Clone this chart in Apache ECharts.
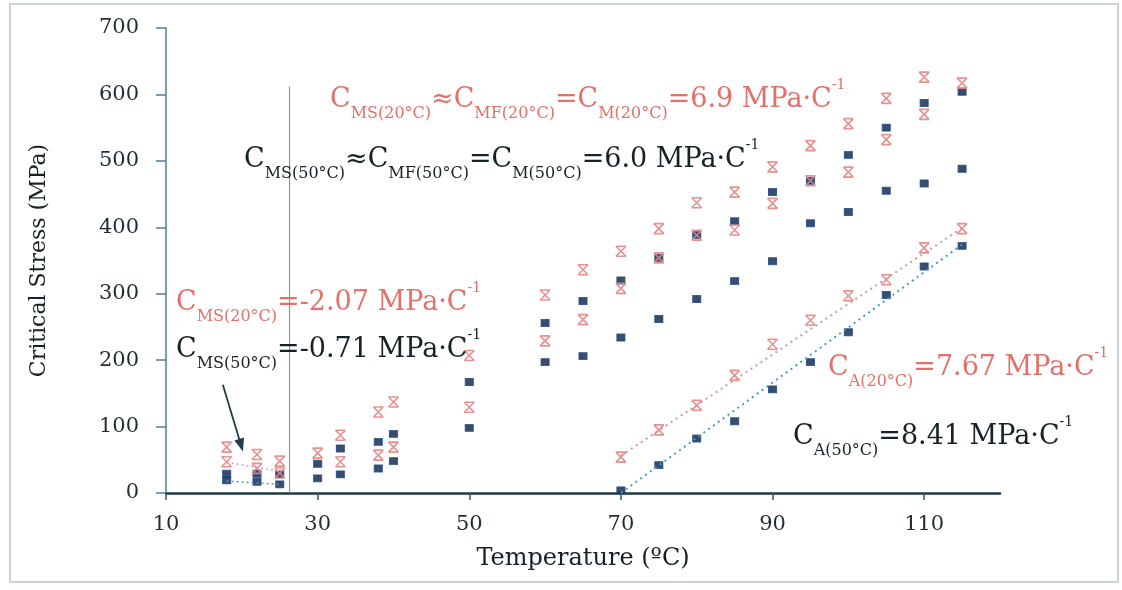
<!DOCTYPE html>
<html>
<head>
<meta charset="utf-8">
<script src="https://cdn.jsdelivr.net/npm/echarts@6/dist/echarts.min.js"></script>
<style>
  html, body { margin: 0; padding: 0; background: #fff; }
  #chart { width: 1122px; height: 590px; }
</style>
</head>
<body>
<div id="chart"></div>
<script>
// 20°C samples (red crosses): martensite branch and austenite branch
const redM = [[18,69],[18,47],[22,58],[22,37],[25,48],[25,30],[30,60],[33,87],[33,47],[38,122],[38,57],[40,137],[40,69],
  [50,207],[50,129],[60,298],[60,229],[65,336],[65,261],[70,364],[70,308],[75,398],[75,354],[80,437],[80,388],
  [85,453],[85,396],[90,491],[90,436],[95,523],[95,470],[100,556],[100,483],[105,594],[105,532],[110,626],[110,570],[115,617]];
const redA = [[70,54],[75,95],[80,132],[85,177],[90,224],[95,260],[100,297],[105,321],[110,369],[115,398]];

// 50°C samples (blue squares)
const blueM = [[18,29],[18,19],[22,29],[22,17],[25,28],[25,13],[30,44],[30,22],[33,67],[33,28],[38,77],[38,37],[40,89],[40,48],
  [50,167],[50,98],[60,256],[60,197],[65,289],[65,206],[70,320],[70,234],[75,354],[75,262],[80,388],[80,292],
  [85,409],[85,319],[90,453],[90,349],[95,470],[95,406],[100,509],[100,423],[105,550],[105,455],[110,587],[110,466],[115,604],[115,488]];
const blueA = [[70,4],[75,42],[80,82],[85,108],[90,156],[95,197],[100,242],[105,298],[110,341],[115,372]];

// fitted lines, divider and arrow
const fitA20 = [[70,56],[115,399]];
const fitA50 = [[70,0],[115,374]];
const fitMs20 = [[18,46],[25,33]];
const fitMs50 = [[18,18],[25,13]];
const divider = [[26.3,0],[26.3,612]];
const arrow = [[17.5,163],[19.9,72]];

const xTicks = [10, 30, 50, 70, 90, 110];

const RED = '#e4706a';
const DARK = '#172226';
const FONT = '"DejaVu Serif", "Liberation Serif", serif';

const crossPath = 'path://M0,0L10,0M0,10L10,10M0,0L10,10M10,0L0,10';

const chart = echarts.init(document.getElementById('chart'));

// rich text styles for the slope annotations
const rich = (color, main, sub) => ({
  c: { fontFamily: FONT, fontSize: main, color: color, lineHeight: main + 16, verticalAlign: 'middle' },
  s: { fontFamily: FONT, fontSize: sub, color: color, lineHeight: sub, verticalAlign: 'bottom' },
  p: { fontFamily: FONT, fontSize: sub - 2, color: color, lineHeight: sub, verticalAlign: 'top' }
});

const label = (x, y, text, color, main, sub) => ({
  type: 'text', x: x, y: y, z: 50,
  style: { text: text, rich: rich(color, main, sub), verticalAlign: 'middle', fill: color }
});

chart.setOption({
  animation: false,
  backgroundColor: '#fff',
  grid: { left: 166, right: 122, top: 28, bottom: 97 },
  xAxis: {
    type: 'value', min: 10, max: 120,
    name: 'Temperature (ºC)', nameLocation: 'middle', nameGap: 54,
    nameTextStyle: { fontFamily: FONT, fontSize: 24, color: DARK },
    axisLine: { lineStyle: { color: '#1f3946', width: 2.5 } },
    axisTick: { customValues: xTicks, length: 7, lineStyle: { color: '#2f5566', width: 1.5 } },
    axisLabel: { customValues: xTicks, margin: 21, fontFamily: FONT, fontSize: 21, color: '#1f2d33' },
    splitLine: { show: false }
  },
  yAxis: {
    type: 'value', min: 0, max: 700, interval: 100,
    name: 'Critical Stress (MPa)', nameLocation: 'middle', nameGap: 116,
    nameTextStyle: { fontFamily: FONT, fontSize: 22, color: DARK },
    axisLine: { show: true, lineStyle: { color: '#4d7f96', width: 1.5 } },
    axisTick: { show: true, length: 10, lineStyle: { color: '#4d7f96', width: 1.5 } },
    axisLabel: { margin: 27, fontFamily: FONT, fontSize: 21, color: '#1f2d33' },
    splitLine: { show: false }
  },
  graphic: [
    { type: 'rect', shape: { x: 10, y: 4, width: 1108, height: 578 }, z: -10,
      style: { fill: 'none', stroke: '#c9d3da', lineWidth: 2 } },
    label(330, 100, '{c|C}{s|MS(20°C)}{c|≈C}{s|MF(20°C)}{c|=C}{s|M(20°C)}{c|=6.9 MPa·C}{p|-1}', RED, 27, 16),
    label(244, 160, '{c|C}{s|MS(50°C)}{c|≈C}{s|MF(50°C)}{c|=C}{s|M(50°C)}{c|=6.0 MPa·C}{p|-1}', DARK, 27, 16),
    label(176, 303, '{c|C}{s|MS(20°C)}{c|=-2.07 MPa·C}{p|-1}', RED, 27, 16),
    label(176, 350, '{c|C}{s|MS(50°C)}{c|=-0.71 MPa·C}{p|-1}', DARK, 27, 16),
    label(828, 368, '{c|C}{s|A(20°C)}{c|=7.67 MPa·C}{p|-1}', RED, 27, 16),
    label(793, 437, '{c|C}{s|A(50°C)}{c|=8.41 MPa·C}{p|-1}', DARK, 27, 16)
  ],
  series: [
    {
      type: 'line', data: divider, symbol: 'none', silent: true,
      lineStyle: { color: '#6b8ea2', width: 1 }
    },
    {
      type: 'line', data: fitA20, symbol: 'none', silent: true,
      lineStyle: { color: '#c99aa6', width: 2, type: [2, 4] }
    },
    {
      type: 'line', data: fitA50, symbol: 'none', silent: true,
      lineStyle: { color: '#4a9bb8', width: 2, type: [2, 4] }
    },
    {
      type: 'line', data: fitMs20, symbol: 'none', silent: true,
      lineStyle: { color: '#c9a3ad', width: 1.5, type: [2, 3] }
    },
    {
      type: 'line', data: fitMs50, symbol: 'none', silent: true,
      lineStyle: { color: '#4a9bb8', width: 1.5, type: [2, 3] }
    },
    {
      type: 'line', data: [], silent: true,
      markLine: {
        silent: true, symbol: ['none', 'triangle'], symbolSize: [10, 13],
        label: { show: false },
        lineStyle: { color: '#223c48', width: 1.8, type: 'solid' },
        data: [[{ coord: arrow[0] }, { coord: arrow[1] }]]
      }
    },
    {
      name: '50°C', type: 'scatter', data: blueM.concat(blueA),
      symbol: 'rect', symbolSize: [8, 7],
      itemStyle: { color: '#08214a', borderColor: '#1d4a85', borderWidth: 1 }
    },
    {
      name: '20°C', type: 'scatter', data: redM.concat(redA),
      symbol: crossPath, symbolSize: 10,
      itemStyle: { color: 'rgba(0,0,0,0)', borderColor: '#e58585', borderWidth: 1.6, opacity: 0.9 }
    }
  ]
});
</script>
</body>
</html>
